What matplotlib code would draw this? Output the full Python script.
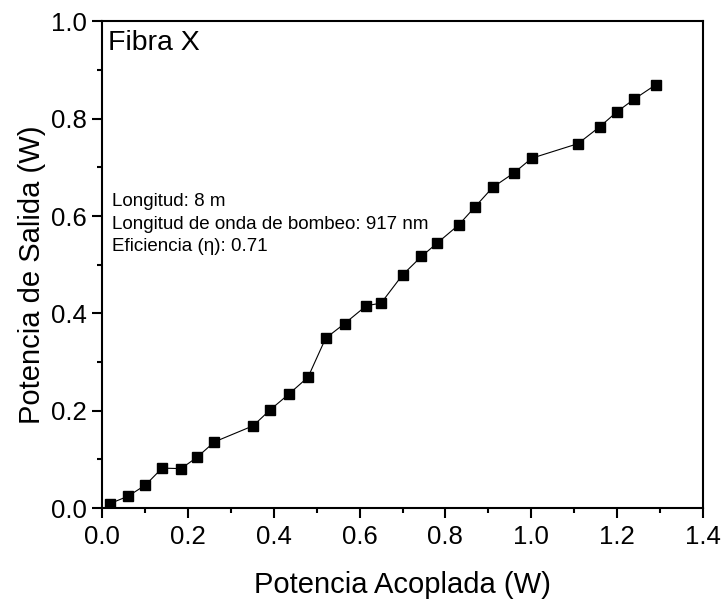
import matplotlib.pyplot as plt
from matplotlib.ticker import MultipleLocator

plt.rcParams['font.family'] = ['Liberation Sans', 'DejaVu Sans']

# potencia acoplada (W) vs potencia de salida (W)
p_acoplada = [0.018, 0.060, 0.101, 0.140, 0.184, 0.221, 0.262, 0.352, 0.392, 0.435,
              0.480, 0.521, 0.565, 0.616, 0.650, 0.700, 0.744, 0.780, 0.831, 0.869,
              0.910, 0.960, 1.001, 1.109, 1.160, 1.199, 1.239, 1.290]
p_salida = [0.009, 0.024, 0.047, 0.082, 0.081, 0.104, 0.136, 0.169, 0.202, 0.234,
            0.269, 0.349, 0.379, 0.416, 0.421, 0.479, 0.517, 0.544, 0.582, 0.619,
            0.659, 0.689, 0.719, 0.749, 0.784, 0.814, 0.840, 0.870]

fig = plt.figure(figsize=(7.27, 6.02), dpi=100)
ax = fig.add_axes([0.1403, 0.1561, 0.8267, 0.8082])

ax.plot(p_acoplada, p_salida, 'k-', lw=0.8, marker='s', ms=7, mfc='k', mec='k')

ax.set_xlim(0, 1.4)
ax.set_ylim(0, 1.0)
ax.xaxis.set_major_locator(MultipleLocator(0.2))
ax.xaxis.set_minor_locator(MultipleLocator(0.1))
ax.yaxis.set_major_locator(MultipleLocator(0.2))
ax.yaxis.set_minor_locator(MultipleLocator(0.1))
ax.tick_params(which='major', direction='out', length=7, width=1.5, labelsize=18.5, pad=4)
ax.tick_params(axis='x', which='major', pad=5)
ax.tick_params(which='minor', direction='out', length=3.5, width=1.5)
ax.xaxis.set_major_formatter(plt.FuncFormatter(lambda v, p: '%.1f' % v))
ax.yaxis.set_major_formatter(plt.FuncFormatter(lambda v, p: '%.1f' % v))
for s in ax.spines.values():
    s.set_linewidth(1.5)

ax.set_xlabel('Potencia Acoplada (W)', fontsize=21, labelpad=16)
ax.set_ylabel('Potencia de Salida (W)', fontsize=21)
ax.yaxis.set_label_coords(-0.094, 0.48)

ax.text(0.0105, 0.955, 'Fibra X', transform=ax.transAxes, fontsize=20.5, va='center')
ax.text(0.0226, 0.630, 'Longitud: 8 m', fontsize=13.5, va='center')
ax.text(0.0226, 0.582, 'Longitud de onda de bombeo: 917 nm', fontsize=13.5, va='center')
ax.text(0.0226, 0.537, 'Eficiencia (η): 0.71', fontsize=13.5, va='center')

fig.savefig('out.png', dpi=100)
